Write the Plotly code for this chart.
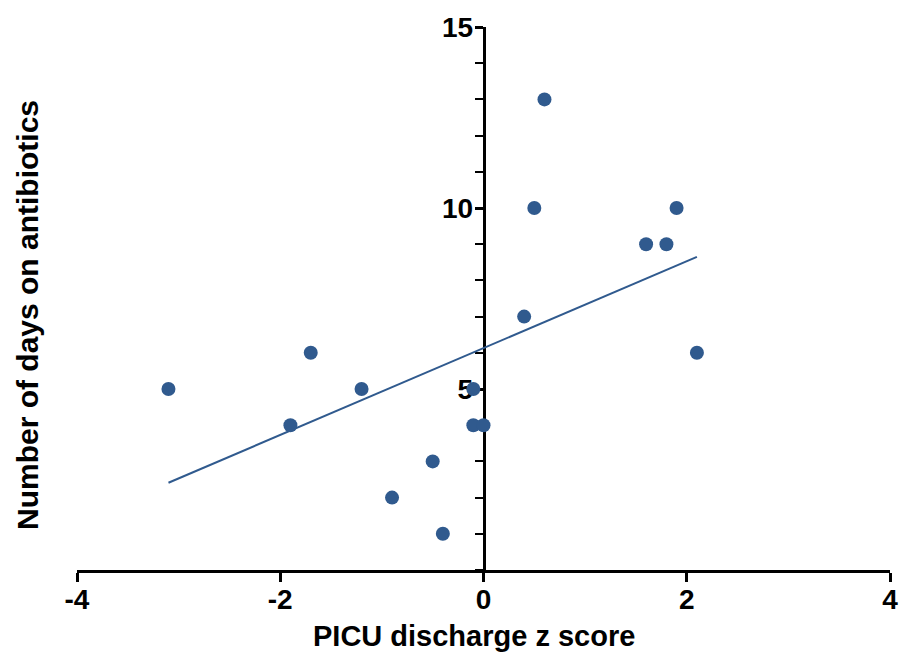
import plotly.graph_objects as go

# Data
z_score = [-3.1, -1.9, -1.7, -1.2, -0.9, -0.5, -0.4, -0.1, -0.1, 0.0, 0.4, 0.5, 0.6, 1.6, 1.8, 1.9, 2.1]
days = [5, 4, 6, 5, 2, 3, 1, 5, 4, 4, 7, 10, 13, 9, 9, 10, 6]
fit_x = [-3.1, 2.1]
fit_y = [2.41, 8.65]
x_ticks = [-4, -2, 0, 2, 4]
y_ticks = [5, 10, 15]

COLOR = "#305A8E"
FONT = "Liberation Sans, Arial, sans-serif"

fig = go.Figure()
fig.add_trace(go.Scatter(x=fit_x, y=fit_y, mode="lines",
                         line=dict(color=COLOR, width=2), hoverinfo="skip", showlegend=False))
fig.add_trace(go.Scatter(x=z_score, y=days, mode="markers",
                         marker=dict(color=COLOR, size=14, line=dict(width=0)),
                         showlegend=False, cliponaxis=False))

fig.update_layout(
    width=901, height=655, autosize=False, showlegend=False,
    margin=dict(l=77, r=11, t=27, b=84.5, pad=0, autoexpand=False),
    plot_bgcolor="white", paper_bgcolor="white",
    font=dict(family=FONT, color="black"),
    xaxis=dict(range=[-4, 4], tickvals=x_ticks, ticktext=[str(v) for v in x_ticks],
               automargin=False, ticklabelstandoff=-6,
               showgrid=False, zeroline=False, showline=True, linecolor="black", linewidth=2.5,
               ticks="outside", ticklen=9, tickwidth=2.5, tickcolor="black",
               tickfont=dict(family=FONT, size=28, weight="bold", color="black"),
               layer="below traces", fixedrange=True),
    yaxis=dict(range=[0, 15], tickvals=y_ticks, ticktext=[str(v) for v in y_ticks],
               anchor="free", position=0.5, automargin=False, ticklabelstandoff=-4,
               showgrid=False, zeroline=False, showline=True, linecolor="black", linewidth=2.5,
               ticks="outside", ticklen=8, tickwidth=2.5, tickcolor="black",
               minor=dict(dtick=1, ticks="outside", ticklen=8, tickwidth=2, tickcolor="black"),
               tickfont=dict(family=FONT, size=28, weight="bold", color="black"),
               layer="below traces", fixedrange=True),
    annotations=[
        dict(text="PICU discharge z score", xref="paper", yref="paper", x=0.488, y=-0.122,
             xanchor="center", yanchor="middle", showarrow=False,
             font=dict(family=FONT, size=29, weight="bold", color="black")),
        dict(text="Number of days on antibiotics", xref="paper", yref="paper", x=-0.06, y=0.47,
             xanchor="center", yanchor="middle", textangle=-90, showarrow=False,
             font=dict(family=FONT, size=30, weight="bold", color="black")),
    ],
)

fig.write_html("out.html", config={"displayModeBar": False},
               post_script="document.body.style.margin='0px';document.body.style.overflow='hidden';")
